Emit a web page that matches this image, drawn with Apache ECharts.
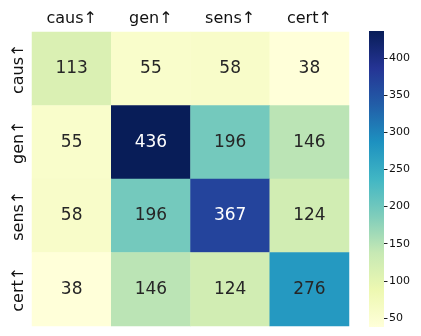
<!DOCTYPE html>
<html>
<head>
<meta charset="utf-8">
<title>heatmap</title>
<script src="https://cdn.jsdelivr.net/npm/echarts@6/dist/echarts.min.js"></script>
<style>
  html, body { margin: 0; padding: 0; background: #fff; }
  #main { width: 421px; height: 336px; }
</style>
</head>
<body>
<div id="main"></div>
<script>
// labels for both axes
var labels = ['caus↑', 'gen↑', 'sens↑', 'cert↑'];
// rows top to bottom
var rowCaus = [113, 55, 58, 38];
var rowGen = [55, 436, 196, 146];
var rowSens = [58, 196, 367, 124];
var rowCert = [38, 146, 124, 276];
var rows = [rowCaus, rowGen, rowSens, rowCert];
var cbTicks = [50, 100, 150, 200, 250, 300, 350, 400];

// YlGnBu
var ylgnbu = ['#ffffd9', '#edf8b1', '#c7e9b4', '#7fcdbb', '#41b6c4', '#1d91c0', '#225ea8', '#253494', '#081d58'];

var cells = [];
var vmin = Infinity, vmax = -Infinity;
rows.forEach(function (r, i) {
  r.forEach(function (v, j) {
    cells.push([j, i, v]);
    vmin = Math.min(vmin, v);
    vmax = Math.max(vmax, v);
  });
});

var stops = ylgnbu.slice().reverse().map(function (c, k) {
  return { offset: k / (ylgnbu.length - 1), color: c };
});

var font = 'DejaVu Sans';
var myChart = echarts.init(document.getElementById('main'));
var option = {
  animation: false,
  textStyle: { fontFamily: font },
  grid: [
    { left: 32, top: 32, width: 317, height: 294 },
    { left: 369, top: 31, width: 15, height: 296 }
  ],
  xAxis: [
    {
      type: 'category', data: labels, position: 'top', gridIndex: 0,
      axisLine: { show: false },
      axisTick: { length: 3.5, alignWithLabel: true, lineStyle: { color: '#222' } },
      axisLabel: { fontSize: 16, color: '#111', margin: 5, fontFamily: font },
      splitArea: { show: false }
    },
    {
      type: 'category', data: [''], gridIndex: 1, show: false
    }
  ],
  yAxis: [
    {
      type: 'category', data: labels, inverse: true, gridIndex: 0,
      axisLine: { show: false },
      axisTick: { length: 3.5, alignWithLabel: true, lineStyle: { color: '#222' } },
      axisLabel: { fontSize: 16, color: '#111', rotate: 90, margin: 5, fontFamily: font }
    },
    {
      type: 'value', gridIndex: 1, position: 'right', min: vmin, max: vmax,
      splitNumber: 8,
      axisLine: { show: false },
      splitLine: { show: false },
      axisTick: { show: true, length: 3.5, lineStyle: { color: '#222' } },
      axisLabel: {
        fontSize: 11, color: '#111', margin: 5, fontFamily: font,
        showMinLabel: false, showMaxLabel: false,
        formatter: function (v) { return cbTicks.indexOf(v) >= 0 ? v : ''; }
      }
    }
  ],
  visualMap: {
    show: false, type: 'continuous', min: vmin, max: vmax,
    seriesIndex: 0, dimension: 2,
    inRange: { color: ylgnbu }
  },
  series: [
    {
      type: 'heatmap', xAxisIndex: 0, yAxisIndex: 0,
      itemStyle: { borderWidth: 0 },
      label: {
        show: true, fontSize: 17, fontFamily: font,
        formatter: function (p) { return p.value[2]; },
        color: '#262626'
      }
    },
    {
      type: 'custom', xAxisIndex: 1, yAxisIndex: 1,
      data: [[0, vmin, vmax]],
      renderItem: function (params, api) {
        var top = api.coord([0, api.value(2)]);
        var bot = api.coord([0, api.value(1)]);
        var w = api.size([1, 0])[0];
        return {
          type: 'rect',
          shape: { x: top[0] - w / 2, y: top[1], width: w, height: bot[1] - top[1] },
          style: { fill: new echarts.graphic.LinearGradient(0, 0, 0, 1, stops) }
        };
      }
    }
  ]
};
// white text on the darkest cells
option.series[0].data = cells.map(function (c) {
  return {
    value: c,
    label: { color: c[2] > 320 ? '#ffffff' : '#262626' }
  };
});
myChart.setOption(option);
</script>
</body>
</html>
